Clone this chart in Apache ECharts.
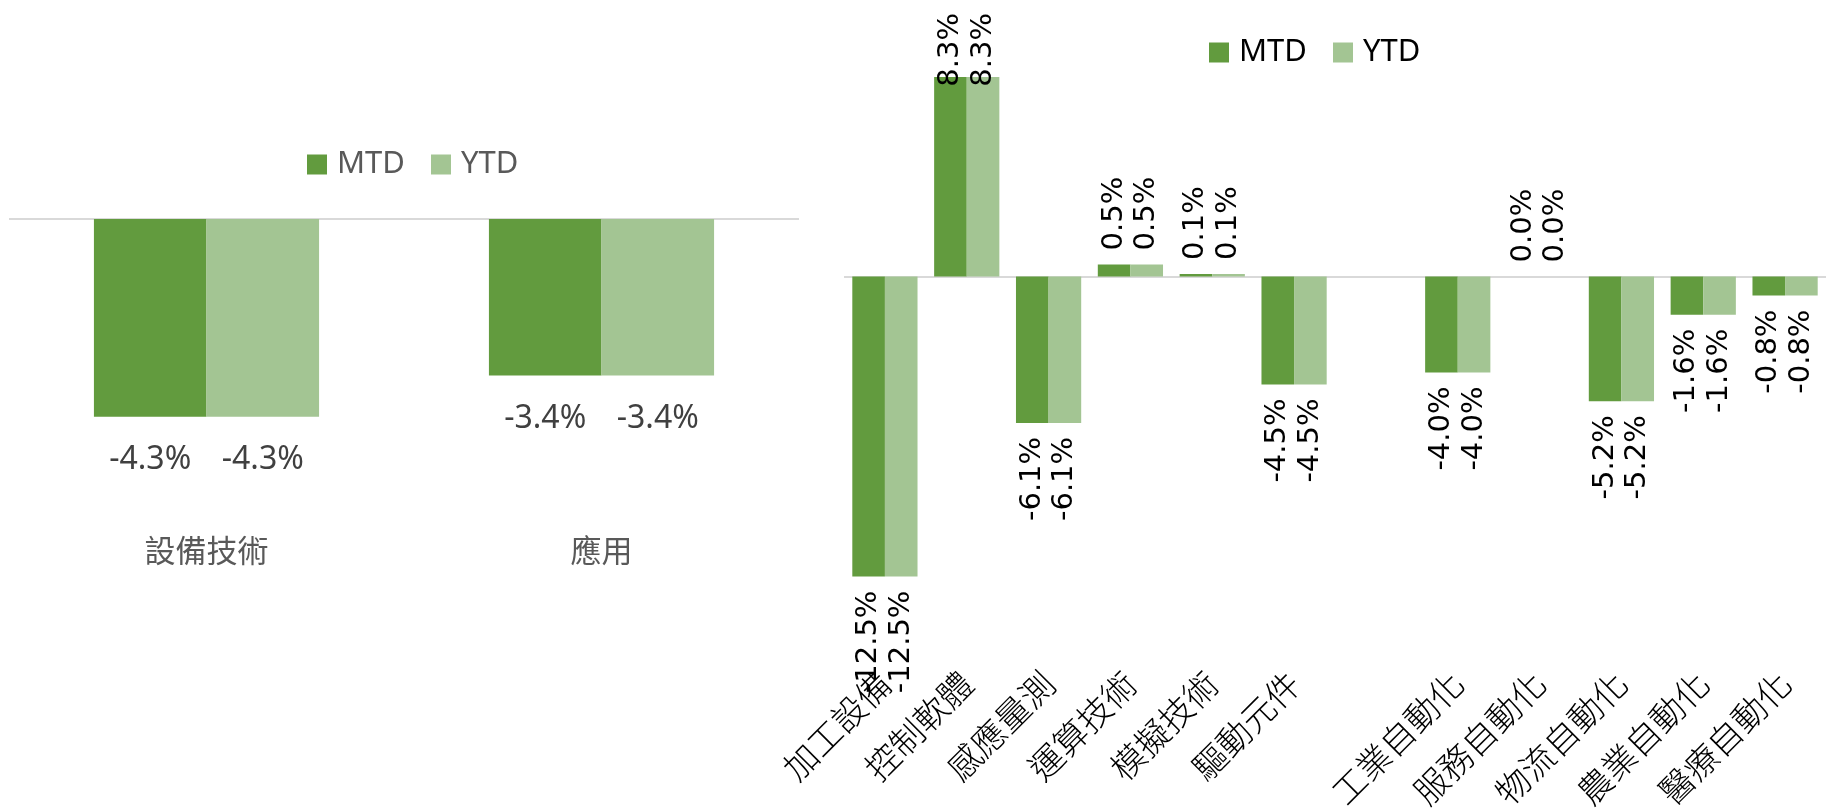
<!DOCTYPE html>
<html>
<head>
<meta charset="utf-8">
<script src="https://cdn.jsdelivr.net/npm/echarts@6/dist/echarts.min.js"></script>
<style>
html,body{margin:0;padding:0;background:#fff;}
#chart{width:1826px;height:812px;}
</style>
</head>
<body>
<div id="chart"></div>
<script>
// Left chart data
const leftCategories = ['設備技術', '應用'];
const leftMTD = [-4.3, -3.4];
const leftYTD = [-4.3, -3.4];

// Right chart data (index 6 is an empty slot)
const rightCategories = ['加工設備', '控制軟體', '感應量測', '運算技術', '模擬技術', '驅動元件', '', '工業自動化', '服務自動化', '物流自動化', '農業自動化', '醫療自動化'];
const rightMTD = [-12.5, 8.3, -6.1, 0.5, 0.1, -4.5, null, -4.0, 0.0, -5.2, -1.6, -0.8];
const rightYTD = [-12.5, 8.3, -6.1, 0.5, 0.1, -4.5, null, -4.0, 0.0, -5.2, -1.6, -0.8];

const seriesNames = ['MTD', 'YTD'];
const colorMTD = '#629B3E';
const colorYTD = '#A3C593';

const pctFmt = p => (p.value === null || p.value === undefined || p.value === '-') ? '' : Number(Array.isArray(p.value) ? p.value[1] : p.value).toFixed(1) + '%';

const posLab = { position: 'top', rotate: 90, align: 'left', verticalAlign: 'middle', distance: 14 };
const negLab = { position: 'bottom', rotate: 90, align: 'right', verticalAlign: 'middle', distance: 14 };
const rightData = vals => vals.map(v => v === null ? '-' : ({ value: v, label: v < 0 ? negLab : posLab }));

const rightLabelBase = {
  show: true, formatter: pctFmt, color: '#000',
  fontFamily: 'DejaVu Sans', fontSize: 29
};
const leftLabelBase = {
  show: true, position: 'bottom', distance: 27, formatter: pctFmt,
  color: '#404040', fontFamily: 'Noto Sans', fontSize: 32
};
// keep labels of tall positive bars inside the chart area (like the original)
const TOP_LIMIT = 13;
const clampTop = function (params) {
  const r = params.labelRect;
  const b = params.rect;
  if (!r || !b) return {};
  const L = Math.max(r.width, r.height);
  const barTop = Math.min(b.y, b.y + b.height);
  const anchor = barTop - 14;
  if (anchor - L < TOP_LIMIT) return { y: TOP_LIMIT + L };
  return {};
};
const zeroLine = {
  silent: true, symbol: 'none', label: { show: false },
  lineStyle: { color: '#d9d9d9', width: 2, type: 'solid' },
  data: [{ yAxis: 0 }], z: 1
};

const chart = echarts.init(document.getElementById('chart'), null, { renderer: 'canvas' });
chart.setOption({
  animation: false,
  backgroundColor: '#fff',
  legend: [
    {
      data: seriesNames.slice(), left: 302, top: 144, icon: 'rect',
      itemWidth: 20, itemHeight: 20, itemGap: 26,
      textStyle: { color: '#595959', fontFamily: 'Noto Sans', fontSize: 31, padding: [0, 0, 0, 5] }
    },
    {
      data: seriesNames.slice(), left: 1204, top: 32, icon: 'rect',
      itemWidth: 20, itemHeight: 20, itemGap: 26,
      textStyle: { color: '#000', fontFamily: 'Noto Sans', fontSize: 31, padding: [0, 0, 0, 5] }
    }
  ],
  grid: [
    { left: 9, top: 127, width: 790, height: 391 },
    { left: 844, top: 12.2, width: 982, height: 656.1 }
  ],
  xAxis: [
    {
      type: 'category', gridIndex: 0, data: leftCategories,
      axisLine: { show: false }, axisTick: { show: false },
      axisLabel: { margin: 17, fontSize: 31, color: '#595959', fontFamily: 'Noto Sans CJK TC' }
    },
    {
      type: 'category', gridIndex: 1, data: rightCategories,
      axisLine: { show: false }, axisTick: { show: false },
      axisLabel: { interval: 0, rotate: 45, margin: 17, fontSize: 34, fontWeight: 300, color: '#000', fontFamily: 'Noto Sans CJK TC' }
    }
  ],
  yAxis: [
    { type: 'value', gridIndex: 0, min: -6.5, max: 2, show: false, splitLine: { show: false } },
    { type: 'value', gridIndex: 1, min: -16, max: 11, show: false, splitLine: { show: false } }
  ],
  series: [
    {
      name: 'MTD', type: 'bar', xAxisIndex: 0, yAxisIndex: 0, data: leftMTD,
      itemStyle: { color: colorMTD }, barGap: '0%', barCategoryGap: '43%',
      label: leftLabelBase, markLine: zeroLine
    },
    {
      name: 'YTD', type: 'bar', xAxisIndex: 0, yAxisIndex: 0, data: leftYTD,
      itemStyle: { color: colorYTD }, barGap: '0%', barCategoryGap: '43%',
      label: leftLabelBase
    },
    {
      name: 'MTD', type: 'bar', xAxisIndex: 1, yAxisIndex: 1, data: rightData(rightMTD),
      itemStyle: { color: colorMTD }, barGap: '0%', barCategoryGap: '20.3%',
      label: rightLabelBase, labelLayout: clampTop, markLine: zeroLine
    },
    {
      name: 'YTD', type: 'bar', xAxisIndex: 1, yAxisIndex: 1, data: rightData(rightYTD),
      itemStyle: { color: colorYTD }, barGap: '0%', barCategoryGap: '20.3%',
      label: rightLabelBase, labelLayout: clampTop
    }
  ]
});
</script>
</body>
</html>
